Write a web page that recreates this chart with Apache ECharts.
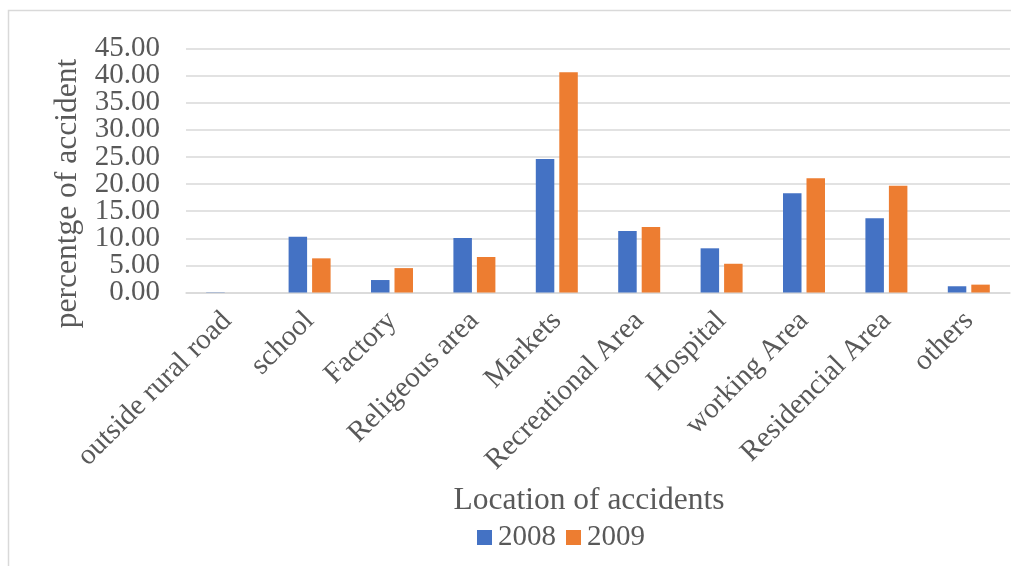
<!DOCTYPE html>
<html>
<head>
<meta charset="utf-8">
<style>
  html, body { margin: 0; padding: 0; background: #fff; }
  #chart { width: 1011px; height: 566px; }
</style>
<script src="https://cdn.jsdelivr.net/npm/echarts@6/dist/echarts.min.js"></script>
</head>
<body>
<div id="chart"></div>
<script>
// Accident share by location, 2008 vs 2009 (percent)
const categories = [
  'outside rural road', 'school', 'Factory', 'Religeous area', 'Markets',
  'Recreational Area', 'Hospital', 'working Area', 'Residencial Area', 'others'
];
const values2008 = [0.05, 10.3, 2.3, 10.05, 24.6, 11.35, 8.15, 18.3, 13.7, 1.15];
const values2009 = [0, 6.3, 4.5, 6.55, 40.6, 12.1, 5.3, 21.05, 19.7, 1.45];
const seriesNames = ['2008', '2009'];
const yMin = 0;
const yMax = 45;
const yStep = 5;

const font = 'Liberation Serif, Times New Roman, serif';
const textColor = '#595959';
const gridColor = '#d9d9d9';

// shared tick-label look for the value axes
const yLabel = {
  margin: 26,
  fontFamily: font,
  fontSize: 29,
  color: textColor,
  hideOverlap: false,
  formatter: v => v.toFixed(2)
};

const chart = echarts.init(document.getElementById('chart'), null, { renderer: 'canvas' });
chart.setOption({
  animation: false,
  backgroundColor: '#fff',
  textStyle: { fontFamily: font, color: textColor },
  graphic: [{
    type: 'rect',
    shape: { x: 8.5, y: 10.5, width: 1100, height: 700 },
    style: { fill: 'none', stroke: gridColor, lineWidth: 1.5 },
    silent: true
  }],
  grid: { left: 186, right: 1, top: 48.5, bottom: 273.5, containLabel: false },
  legend: {
    data: seriesNames,
    left: 477,
    top: 523,
    padding: 0,
    itemWidth: 15,
    itemHeight: 15,
    itemGap: 10,
    icon: 'rect',
    textStyle: { fontFamily: font, fontSize: 29, color: textColor, padding: [2, 0, 0, 1] }
  },
  xAxis: {
    type: 'category',
    data: categories,
    name: 'Location of accidents',
    nameLocation: 'middle',
    nameGap: 192,
    nameTextStyle: { fontFamily: font, fontSize: 31.5, color: textColor, padding: [0, 18, 0, 0] },
    axisLine: { lineStyle: { color: gridColor, width: 1.5 } },
    axisTick: { show: false },
    axisLabel: {
      interval: 0,
      rotate: 45,
      margin: 24,
      fontFamily: font,
      fontSize: 29,
      color: textColor
    }
  },
  yAxis: [
    {
      // main value axis: gridlines, title and the inner tick labels
      type: 'value',
      min: yMin,
      max: yMax,
      interval: yStep,
      position: 'left',
      name: 'percentge of accident',
      nameLocation: 'middle',
      nameGap: 101,
      nameTextStyle: { fontFamily: font, fontSize: 31.5, color: textColor, padding: [0, 46, 0, 0] },
      axisLine: { show: false },
      axisTick: { show: false },
      splitLine: { lineStyle: { color: gridColor, width: 1.5 } },
      axisLabel: Object.assign({}, yLabel, { showMinLabel: false, showMaxLabel: false })
    },
    {
      // same scale, carries the end labels 0.00 and 45.00
      type: 'value',
      min: yMin,
      max: yMax,
      interval: yMax - yMin,
      position: 'left',
      offset: 0,
      axisLine: { show: false },
      axisTick: { show: false },
      splitLine: { show: false },
      axisLabel: Object.assign({}, yLabel, { showMinLabel: true, showMaxLabel: true })
    }
  ],
  series: [
    {
      name: seriesNames[0],
      type: 'bar',
      data: values2008,
      barWidth: 18.5,
      barGap: '27%',
      itemStyle: { color: '#4472C4' }
    },
    {
      name: seriesNames[1],
      type: 'bar',
      data: values2009,
      barWidth: 18.5,
      itemStyle: { color: '#ED7D31' }
    }
  ]
});
</script>
</body>
</html>
